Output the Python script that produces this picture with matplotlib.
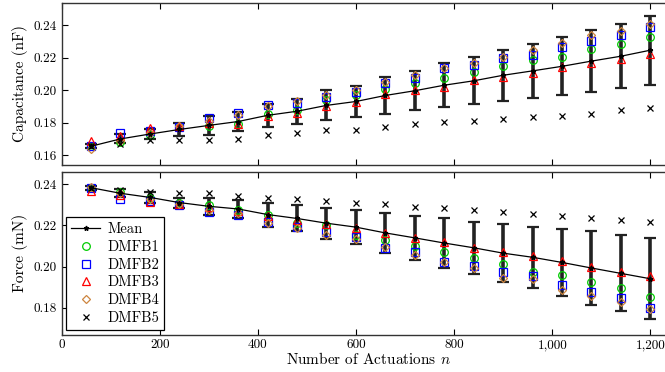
import numpy as np
import matplotlib
matplotlib.use('Agg')
import matplotlib.pyplot as plt
from matplotlib.ticker import FuncFormatter

plt.rcParams['font.family'] = 'serif'
plt.rcParams['font.serif'] = ['cmr10', 'DejaVu Serif']
plt.rcParams['mathtext.fontset'] = 'cm'
plt.rcParams['axes.formatter.use_mathtext'] = True

# number of actuations
n = np.arange(60, 1201, 60)

# capacitance (nF)
cap_dmfb1 = [0.1655, 0.1680, 0.1727, 0.1772, 0.1782, 0.1790, 0.1855, 0.1880, 0.1940, 0.1970,
             0.2006, 0.2043, 0.2074, 0.2114, 0.2145, 0.2186, 0.2206, 0.2253, 0.2284, 0.2325]
cap_dmfb2 = [0.1655, 0.1737, 0.1747, 0.1774, 0.1829, 0.1860, 0.1910, 0.1923, 0.1960, 0.1986,
             0.2043, 0.2074, 0.2135, 0.2155, 0.2196, 0.2216, 0.2267, 0.2304, 0.2339, 0.2386]
cap_dmfb3 = [0.1686, 0.1717, 0.1768, 0.1780, 0.1795, 0.1790, 0.1840, 0.1860, 0.1900, 0.1925,
             0.1978, 0.2002, 0.2019, 0.2059, 0.2080, 0.2108, 0.2139, 0.2169, 0.2190, 0.2222]
cap_dmfb4 = [0.1640, 0.1690, 0.1737, 0.1780, 0.1810, 0.1850, 0.1900, 0.1930, 0.1970, 0.2000,
             0.2050, 0.2094, 0.2135, 0.2165, 0.2206, 0.2247, 0.2288, 0.2339, 0.2363, 0.2406]
cap_dmfb5 = [0.1655, 0.1666, 0.1696, 0.1692, 0.1692, 0.1700, 0.1725, 0.1735, 0.1755, 0.1757,
             0.1774, 0.1792, 0.1802, 0.1812, 0.1823, 0.1833, 0.1843, 0.1853, 0.1880, 0.1890]
cap_mean = [0.1655, 0.1700, 0.1730, 0.1758, 0.1783, 0.1807, 0.1845, 0.1870, 0.1906, 0.1930,
            0.1967, 0.1996, 0.2030, 0.2057, 0.2091, 0.2118, 0.2146, 0.2178, 0.2208, 0.2245]
cap_err = [0.0012, 0.0028, 0.0030, 0.0039, 0.0056, 0.0056, 0.0071, 0.0078, 0.0092, 0.0097,
           0.0113, 0.0121, 0.0136, 0.0145, 0.0156, 0.0166, 0.0179, 0.0190, 0.0198, 0.0212]

# force (mN)
f_dmfb1 = [0.2382, 0.2362, 0.2331, 0.2307, 0.2299, 0.2274, 0.2250, 0.2210, 0.2202, 0.2154,
           0.2129, 0.2100, 0.2070, 0.2041, 0.2012, 0.1976, 0.1960, 0.1924, 0.1894, 0.1855]
f_dmfb2 = [0.2382, 0.2328, 0.2318, 0.2299, 0.2263, 0.2250, 0.2218, 0.2194, 0.2167, 0.2145,
           0.2092, 0.2070, 0.2022, 0.2005, 0.1976, 0.1952, 0.1912, 0.1875, 0.1848, 0.1800]
f_dmfb3 = [0.2366, 0.2347, 0.2312, 0.2303, 0.2287, 0.2270, 0.2245, 0.2226, 0.2205, 0.2189,
           0.2162, 0.2138, 0.2117, 0.2092, 0.2070, 0.2049, 0.2025, 0.1998, 0.1974, 0.1952]
f_dmfb4 = [0.2385, 0.2355, 0.2328, 0.2302, 0.2275, 0.2258, 0.2210, 0.2186, 0.2154, 0.2134,
           0.2095, 0.2054, 0.2022, 0.1995, 0.1947, 0.1938, 0.1888, 0.1856, 0.1830, 0.1793]
f_dmfb5 = [0.2382, 0.2371, 0.2360, 0.2355, 0.2355, 0.2344, 0.2334, 0.2326, 0.2318, 0.2310,
           0.2302, 0.2290, 0.2283, 0.2274, 0.2263, 0.2254, 0.2247, 0.2237, 0.2226, 0.2215]
f_mean = [0.2382, 0.2355, 0.2335, 0.2310, 0.2292, 0.2279, 0.2252, 0.2233, 0.2210, 0.2191,
          0.2163, 0.2139, 0.2114, 0.2091, 0.2065, 0.2045, 0.2020, 0.1993, 0.1967, 0.1941]
f_err = [0.0010, 0.0020, 0.0025, 0.0024, 0.0042, 0.0044, 0.0058, 0.0063, 0.0076, 0.0081,
         0.0095, 0.0106, 0.0121, 0.0127, 0.0140, 0.0149, 0.0163, 0.0177, 0.0184, 0.0197]

styles = [
    ('DMFB1', 'o', '#00cc00'),
    ('DMFB2', 's', '#0000ff'),
    ('DMFB3', '^', '#ff0000'),
    ('DMFB4', 'D', '#cd853f'),
]

fig = plt.figure(figsize=(6.65, 3.72), dpi=100)
ax1 = fig.add_axes([0.0925, 0.5565, 0.9224, 0.4355])
ax2 = fig.add_axes([0.0925, 0.1008, 0.9224, 0.4368])


def draw(ax, series, x5, mean, err):
    ax.errorbar(n, mean, yerr=err, fmt='none', ecolor='#222222', elinewidth=2.6,
                capsize=4.5, capthick=1.6, zorder=2)
    for (name, mk, col), vals in zip(styles, series):
        ms = 4.2 if mk == 'D' else 5.5
        ax.plot(n, vals, linestyle='none', marker=mk, markersize=ms, markerfacecolor='none',
                markeredgecolor=col, markeredgewidth=0.9, label=name, zorder=3)
    ax.plot(n, x5, linestyle='none', marker='x', markersize=5, color='black',
            markeredgewidth=0.9, label='DMFB5', zorder=3)
    ax.plot(n, mean, color='black', linewidth=0.9, marker='*', markersize=3.5, label='Mean', zorder=4)
    ax.set_xlim(0, 1250)
    ax.tick_params(direction='in', top=True, right=True, labelsize=9.5, length=4)
    for s in ax.spines.values():
        s.set_linewidth(1.0)
        s.set_color('#333333')
    ax.yaxis.set_major_formatter(FuncFormatter(lambda v, p: '%.2f' % v))


draw(ax1, [cap_dmfb1, cap_dmfb2, cap_dmfb3, cap_dmfb4], cap_dmfb5, cap_mean, cap_err)
draw(ax2, [f_dmfb1, f_dmfb2, f_dmfb3, f_dmfb4], f_dmfb5, f_mean, f_err)

ax1.set_ylim(0.154, 0.2535)
ax1.set_yticks([0.16, 0.18, 0.20, 0.22, 0.24])
ax1.set_xticks(range(0, 1201, 200))
ax1.tick_params(labelbottom=False)
ax1.set_ylabel('Capacitance (nF)', fontsize=11)

ax2.set_ylim(0.1671, 0.2458)
ax2.set_yticks([0.18, 0.20, 0.22, 0.24])
ax2.set_xticks(range(0, 1201, 200))
ax2.xaxis.set_major_formatter(FuncFormatter(lambda v, p: '{:,.0f}'.format(v)))
ax2.set_ylabel('Force (mN)', fontsize=11)
ax2.set_xlabel('Number of Actuations $n$', fontsize=11, labelpad=0)

h, l = ax2.get_legend_handles_labels()
order = [5, 0, 1, 2, 3, 4]
leg = ax2.legend([h[i] for i in order], [l[i] for i in order], loc='lower left',
                 fontsize=10.5, fancybox=False, edgecolor='black', framealpha=1,
                 borderaxespad=0.3, handlelength=2.0, handletextpad=0.5,
                 labelspacing=0.28, borderpad=0.35)
leg.get_frame().set_linewidth(0.9)

fig.savefig('out.png', dpi=100)
